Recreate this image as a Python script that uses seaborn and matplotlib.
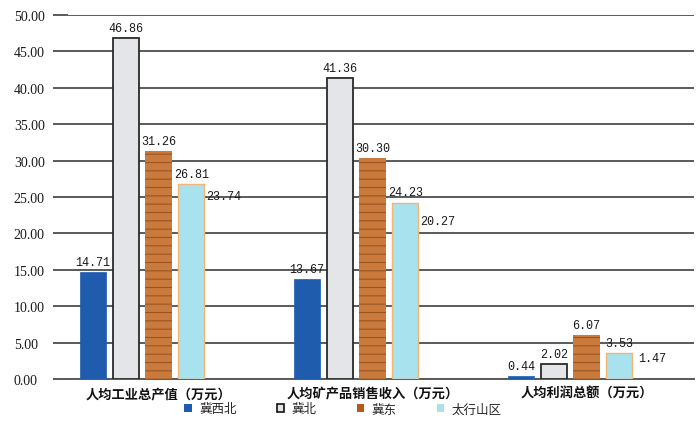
import matplotlib
matplotlib.use("Agg")
import matplotlib.pyplot as plt
import seaborn as sns
import pandas as pd
from matplotlib.patches import Patch

categories = ["人均工业总产值（万元）", "人均矿产品销售收入（万元）", "人均利润总额（万元）"]
regions = ["冀西北", "冀北", "冀东", "太行山区", "全省"]
v_jxb = [14.71, 13.67, 0.44]
v_jb = [46.86, 41.36, 2.02]
v_jd = [31.26, 30.30, 6.07]
v_thsq = [26.81, 24.23, 3.53]
v_qs = [23.74, 20.27, 1.47]
yticks = [0, 5, 10, 15, 20, 25, 30, 35, 40, 45, 50]

series = [v_jxb, v_jb, v_jd, v_thsq, v_qs]
rows = []
for reg, vals in zip(regions, series):
    for cat, v in zip(categories, vals):
        rows.append({"指标": cat, "地区": reg, "值": v})
df = pd.DataFrame(rows)

sns.set_style("white")
plt.rcParams["font.family"] = ["Noto Sans CJK SC", "DejaVu Sans"]
plt.rcParams["hatch.linewidth"] = 0.8

fig = plt.figure(figsize=(7.0, 4.31), dpi=100)
ax = fig.add_axes([68 / 700, 51 / 431, (694 - 68) / 700, 364 / 431])

sns.barplot(data=df, x="指标", y="值", hue="地区", order=categories,
            hue_order=regions, width=0.764, gap=0.2, legend=False, ax=ax,
            errorbar=None)

face = ["#1f5cae", "#e4e5e8", "#c97a3c", "#a9e2ef", "none"]
edge = ["#1f5cae", "#2a2a2a", "#9a5522", "#f4b56e", "none"]
hatches = [None, None, "--", None, None]
lws = [0.5, 1.3, 0.0, 1.0, 0]
for i, cont in enumerate(ax.containers):
    for p in cont:
        p.set_facecolor(face[i])
        p.set_edgecolor(edge[i])
        p.set_linewidth(lws[i])
        if hatches[i]:
            p.set_hatch(hatches[i])
        p.set_zorder(3)
    ax.bar_label(cont, fmt="%.2f", padding=3, fontsize=8.5,
                 family="Liberation Mono", color="#1a1a1a", zorder=4)

ax.set_ylim(0, 50)
ax.set_xlim(-0.423, 2.502)
ax.set_yticks(yticks)
ax.set_yticklabels([f"{t:.2f}" for t in yticks], family="Liberation Serif",
                   fontsize=10, color="#1a1a1a")
for lab in ax.get_yticklabels():
    lab.set_ha("left")
ax.tick_params(axis="y", length=11, width=1.4, color="#5a5a5a", pad=28, left=True)
ax.tick_params(axis="x", length=0, pad=5, labelsize=9.5)
for lab in ax.get_xticklabels():
    lab.set_fontweight("bold")
    lab.set_color("#111111")
ax.yaxis.grid(True, color="#5a5a5a", linewidth=1.4, zorder=0)
ax.set_axisbelow(True)
for s in ["top", "right", "left"]:
    ax.spines[s].set_visible(False)
ax.spines["bottom"].set_color("#5a5a5a")
ax.spines["bottom"].set_linewidth(1.4)
ax.set_xlabel("")
ax.set_ylabel("")

handles = [Patch(facecolor=face[i] if i != 2 else "#b55a1c",
                 edgecolor=edge[i] if i != 1 else "#111111",
                 linewidth=1.2 if i == 1 else 0.0) for i in range(4)]
leg = fig.legend(handles, regions[:4], loc="center", ncol=4,
                 bbox_to_anchor=(343 / 700, 1 - 410 / 431), frameon=False,
                 handlelength=0.6, handleheight=0.6, handletextpad=0.6,
                 columnspacing=3.2, fontsize=9)

fig.savefig("out.png", dpi=100, facecolor="white")
